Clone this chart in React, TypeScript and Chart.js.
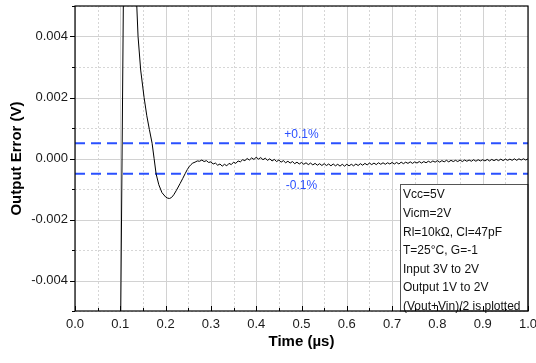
import { useEffect, useRef } from 'react';
import { Chart, registerables } from 'chart.js';

Chart.register(...registerables);

// ---------- data ----------
const timeUs = [
  0.0995, 0.1075, 0.116, 0.126, 0.132, 0.1364, 0.1392, 0.145, 0.1525, 0.1585,
  0.1642, 0.1702, 0.1746, 0.179, 0.185, 0.192, 0.2, 0.2045, 0.2087, 0.213,
  0.218, 0.224, 0.232, 0.238, 0.243, 0.248, 0.252, 0.256,
  0.260, 0.265, 0.270, 0.275, 0.280, 0.285, 0.290, 0.295, 0.300, 0.305,
  0.310, 0.315, 0.320, 0.325, 0.330, 0.335, 0.340, 0.345, 0.350, 0.355,
  0.360, 0.365, 0.370, 0.375, 0.380, 0.385, 0.390, 0.395, 0.400, 0.405,
  0.410, 0.415, 0.420, 0.425, 0.430, 0.435, 0.440, 0.445, 0.450, 0.455,
  0.460, 0.465, 0.470, 0.475, 0.480, 0.485, 0.490, 0.495, 0.500, 0.505,
  0.510, 0.515, 0.520, 0.525, 0.530, 0.535, 0.540, 0.545, 0.550, 0.555,
  0.560, 0.565, 0.570, 0.575, 0.580, 0.585, 0.590, 0.595, 0.600, 0.605,
  0.610, 0.615, 0.620, 0.625, 0.630, 0.635, 0.640, 0.645, 0.650, 0.655,
  0.660, 0.665, 0.670, 0.675, 0.680, 0.685, 0.690, 0.695, 0.700, 0.705,
  0.710, 0.715, 0.720, 0.725, 0.730, 0.735, 0.740, 0.745, 0.750, 0.755,
  0.760, 0.765, 0.770, 0.775, 0.780, 0.785, 0.790, 0.795, 0.800, 0.805,
  0.810, 0.815, 0.820, 0.825, 0.830, 0.835, 0.840, 0.845, 0.850, 0.855,
  0.860, 0.865, 0.870, 0.875, 0.880, 0.885, 0.890, 0.895, 0.900, 0.905,
  0.910, 0.915, 0.920, 0.925, 0.930, 0.935, 0.940, 0.945, 0.950, 0.955,
  0.960, 0.965, 0.970, 0.975, 0.980, 0.985, 0.990, 0.995, 1.000,
];

const outputErrorV = [
  -0.0076, 0.0064, 0.0092, 0.0088, 0.0068, 0.005, 0.004, 0.0029, 0.002, 0.0014,
  0.00095, 0.0005, 0.0, -0.0005, -0.00086, -0.00112, -0.00126, -0.0013, -0.00131, -0.00128,
  -0.00119, -0.00104, -0.00082, -0.00065, -0.0005, -0.00036, -0.00027, -0.0002,
  -0.00015, -0.00012, -0.00008, -0.00009, -0.00005, -0.0001, -0.00007, -0.00013, -0.00011, -0.00018,
  -0.00015, -0.00022, -0.00018, -0.00025, -0.00019, -0.00024, -0.00016, -0.0002, -0.00012, -0.00016,
  -0.00008, -0.00011, -0.00004, -0.00007, 0.0, -0.00005, 0.00002, -0.00003, 0.00004, -0.00002,
  0.00003, -0.00004, 0.00001, -0.00006, -0.00001, -0.00008, -0.00003, -0.0001, -0.00005, -0.00012,
  -0.00007, -0.00014, -0.00009, -0.00015, -0.0001, -0.00017, -0.00012, -0.00018, -0.00013, -0.00019,
  -0.00014, -0.0002, -0.00015, -0.00021, -0.00016, -0.00022, -0.00017, -0.00023, -0.00017, -0.00023,
  -0.00018, -0.00024, -0.00018, -0.00024, -0.00019, -0.00025, -0.00019, -0.00025, -0.00019, -0.00024,
  -0.00019, -0.00024, -0.00018, -0.00023, -0.00017, -0.00022, -0.00016, -0.00021, -0.00015, -0.0002,
  -0.00015, -0.0002, -0.00014, -0.00019, -0.00014, -0.00019, -0.00014, -0.00018, -0.00013, -0.00018,
  -0.00013, -0.00018, -0.00012, -0.00017, -0.00012, -0.00016, -0.00011, -0.00016, -0.00011, -0.00015,
  -0.0001, -0.00015, -0.0001, -0.00014, -0.00009, -0.00013, -0.00008, -0.00012, -0.00007, -0.00012,
  -0.00007, -0.00011, -0.00006, -0.00011, -0.00006, -0.0001, -0.00006, -0.0001, -0.00005, -0.0001,
  -0.00005, -0.00009, -0.00005, -0.00009, -0.00004, -0.00009, -0.00004, -0.00008, -0.00004, -0.00008,
  -0.00003, -0.00008, -0.00003, -0.00007, -0.00003, -0.00007, -0.00002, -0.00007, -0.00002, -0.00006,
  -0.00002, -0.00006, -0.00001, -0.00006, -0.00001, -0.00005, -0.00001, -0.00005, -0.00001,
];

const limitTimesUs = [0, 1];
const upperLimitV = [0.0005, 0.0005];
const lowerLimitV = [-0.0005, -0.0005];
const limitLabels = ['+0.1%', '-0.1%'];

const xTickValues = [0, 0.1, 0.2, 0.3, 0.4, 0.5, 0.6, 0.7, 0.8, 0.9, 1.0];
const xMinorValues = [0.05, 0.15, 0.25, 0.35, 0.45, 0.55, 0.65, 0.75, 0.85, 0.95];
const yTickValues = [-0.004, -0.002, 0, 0.002, 0.004];
const yMinorValues = [-0.005, -0.003, -0.001, 0.001, 0.003, 0.005];

const noteLines = [
  'Vcc=5V',
  'Vicm=2V',
  'Rl=10kΩ, Cl=47pF',
  'T=25°C, G=-1',
  'Input 3V to 2V',
  'Output 1V to 2V',
  '(Vout+Vin)/2 is plotted',
];

const FONT = '"Liberation Sans", Arial, Helvetica, sans-serif';
const BLUE = '#2a50ff';

const decorPlugin = {
  id: 'decor',
  beforeDatasetsDraw(chart: any) {
    const { ctx, chartArea: a, scales } = chart;
    const x = scales.x;
    const y = scales.y;
    ctx.save();
    ctx.lineWidth = 1;
    // minor dotted grid
    ctx.strokeStyle = '#d6d6d6';
    ctx.setLineDash([2, 2]);
    ctx.beginPath();
    for (const v of xMinorValues) {
      const px = Math.round(x.getPixelForValue(v)) + 0.5;
      ctx.moveTo(px, a.top);
      ctx.lineTo(px, a.bottom);
    }
    for (const v of yMinorValues) {
      const py = Math.round(y.getPixelForValue(v)) + 0.5;
      ctx.moveTo(a.left, py);
      ctx.lineTo(a.right, py);
    }
    ctx.stroke();
    // major solid grid
    ctx.setLineDash([]);
    ctx.strokeStyle = '#d2d2d2';
    ctx.beginPath();
    for (const v of xTickValues) {
      const px = Math.round(x.getPixelForValue(v)) + 0.5;
      ctx.moveTo(px, a.top);
      ctx.lineTo(px, a.bottom);
    }
    for (const v of yTickValues) {
      const py = Math.round(y.getPixelForValue(v)) + 0.5;
      ctx.moveTo(a.left, py);
      ctx.lineTo(a.right, py);
    }
    ctx.stroke();
    ctx.restore();
  },
  afterDatasetsDraw(chart: any) {
    const { ctx, chartArea: a, scales } = chart;
    const x = scales.x;
    const y = scales.y;
    ctx.save();
    // limit labels
    ctx.fillStyle = BLUE;
    ctx.font = `12px ${FONT}`;
    ctx.textAlign = 'center';
    ctx.textBaseline = 'middle';
    const lx = x.getPixelForValue(0.5);
    ctx.fillText(limitLabels[0], lx, y.getPixelForValue(upperLimitV[0]) - 9);
    ctx.fillText(limitLabels[1], lx, y.getPixelForValue(lowerLimitV[0]) + 12);

    // note box
    const bx = 400.5;
    const by = 184.5;
    ctx.fillStyle = '#ffffff';
    ctx.fillRect(bx, by, a.right - bx, a.bottom - by);
    ctx.strokeStyle = '#555555';
    ctx.lineWidth = 1;
    ctx.strokeRect(bx, by, a.right - bx, a.bottom - by);
    ctx.fillStyle = '#111111';
    ctx.textAlign = 'left';
    noteLines.forEach((t, i) => {
      ctx.fillText(t, bx + 2.5, 195 + i * 18.6);
    });

    // frame
    ctx.strokeStyle = '#000000';
    ctx.lineWidth = 1.2;
    ctx.strokeRect(a.left, a.top, a.right - a.left, a.bottom - a.top);

    // tick marks
    ctx.lineWidth = 1;
    ctx.beginPath();
    for (const v of yTickValues) {
      const py = Math.round(y.getPixelForValue(v)) + 0.5;
      ctx.moveTo(a.left - 5, py);
      ctx.lineTo(a.left, py);
    }
    for (const v of yMinorValues) {
      const py = Math.round(y.getPixelForValue(v)) + 0.5;
      ctx.moveTo(a.left - 3, py);
      ctx.lineTo(a.left, py);
    }
    for (const v of xTickValues) {
      const px = Math.round(x.getPixelForValue(v)) + 0.5;
      ctx.moveTo(px, a.bottom);
      ctx.lineTo(px, a.bottom - 5);
    }
    for (const v of xMinorValues) {
      const px = Math.round(x.getPixelForValue(v)) + 0.5;
      ctx.moveTo(px, a.bottom);
      ctx.lineTo(px, a.bottom - 3);
    }
    ctx.stroke();
    ctx.restore();
  },
};

export default function App() {
  const ref = useRef<HTMLCanvasElement | null>(null);

  useEffect(() => {
    if (!ref.current) return;
    Chart.defaults.font.family = FONT;
    const chart = new Chart(ref.current, {
      type: 'line',
      data: {
        datasets: [
          {
            label: 'Output Error',
            data: timeUs.map((t, i) => ({ x: t, y: outputErrorV[i] })),
            borderColor: '#000000',
            borderWidth: 1,
            pointRadius: 0,
            tension: 0,
          },
          {
            label: '+0.1%',
            data: limitTimesUs.map((t, i) => ({ x: t, y: upperLimitV[i] })),
            borderColor: BLUE,
            borderWidth: 2,
            borderDash: [10, 6],
            pointRadius: 0,
          },
          {
            label: '-0.1%',
            data: limitTimesUs.map((t, i) => ({ x: t, y: lowerLimitV[i] })),
            borderColor: BLUE,
            borderWidth: 2,
            borderDash: [10, 6],
            pointRadius: 0,
          },
        ],
      },
      options: {
        responsive: false,
        animation: false,
        layout: { padding: { left: 0, top: 6, right: 8, bottom: 0 } },
        plugins: {
          legend: { display: false },
          tooltip: { enabled: false },
        },
        scales: {
          x: {
            type: 'linear',
            min: 0,
            max: 1,
            afterFit: (s: any) => {
              s.height = 52;
              s.paddingLeft = 0;
              s.paddingRight = 0;
            },
            afterBuildTicks: (s: any) => {
              s.ticks = xTickValues.map((v) => ({ value: v }));
            },
            grid: { display: false, drawTicks: false },
            border: { display: false },
            ticks: {
              padding: 6,
              color: '#1a1a1a',
              font: { size: 13, family: FONT },
              maxRotation: 0,
              autoSkip: false,
              callback: (v: any) => Number(v).toFixed(1),
            },
            title: {
              display: true,
              text: 'Time (µs)',
              color: '#000000',
              font: { size: 15, weight: 'bold', family: FONT },
              padding: { top: 0, bottom: 12 },
            },
          },
          y: {
            type: 'linear',
            min: -0.005,
            max: 0.005,
            afterFit: (s: any) => {
              s.width = 75;
              s.paddingTop = 0;
              s.paddingBottom = 0;
            },
            afterBuildTicks: (s: any) => {
              s.ticks = yTickValues.map((v) => ({ value: v }));
            },
            grid: { display: false, drawTicks: false },
            border: { display: false },
            ticks: {
              padding: 7,
              color: '#1a1a1a',
              font: { size: 13, family: FONT },
              autoSkip: false,
              callback: (v: any) => Number(v).toFixed(3),
            },
            title: {
              display: true,
              text: 'Output Error (V)',
              color: '#000000',
              font: { size: 15, weight: 'bold', family: FONT },
              padding: { top: 8, bottom: 0 },
            },
          },
        },
      },
      plugins: [decorPlugin],
    } as any);
    return () => chart.destroy();
  }, []);

  return (
    <div style={{ position: 'absolute', left: 0, top: 0, width: 536, height: 363, background: '#ffffff' }}>
      <canvas ref={ref} width={536} height={363} />
    </div>
  );
}
